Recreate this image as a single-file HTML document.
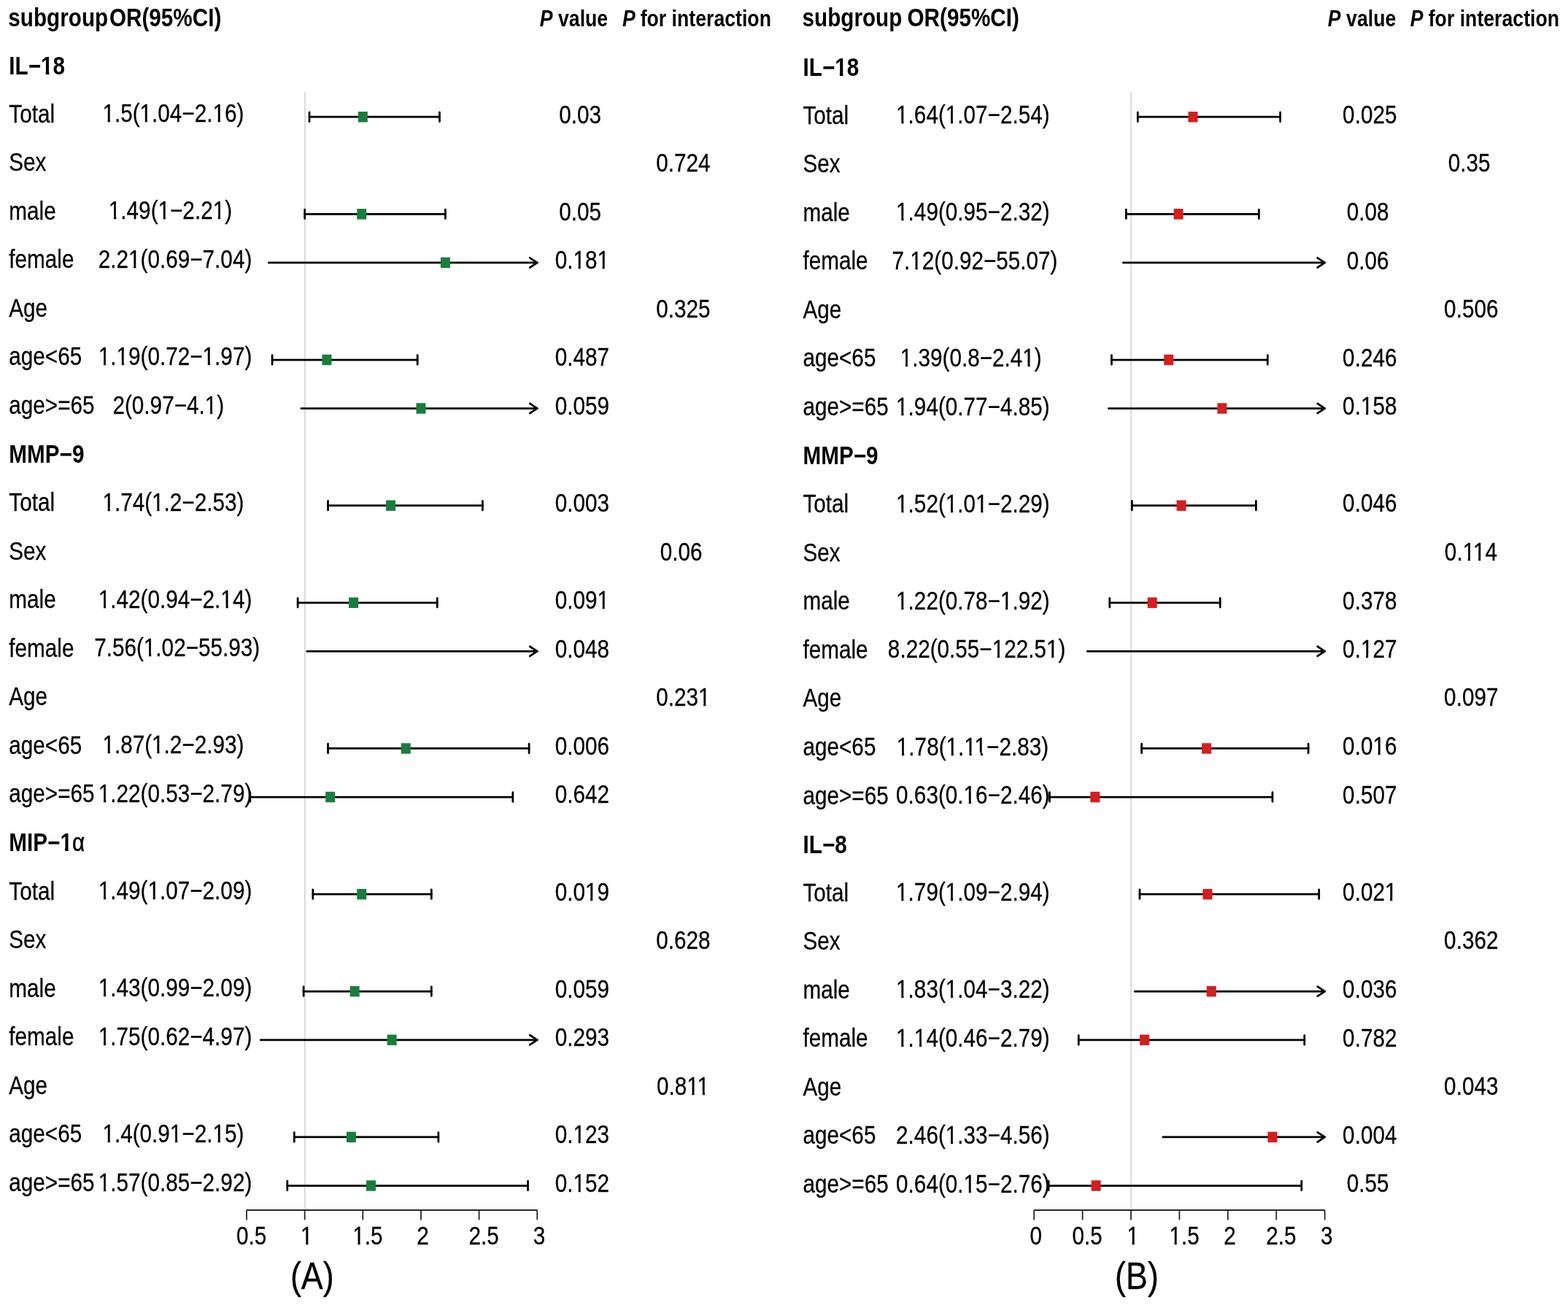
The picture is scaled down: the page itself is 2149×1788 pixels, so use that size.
<!DOCTYPE html>
<html><head><meta charset="utf-8"><title>Forest plot</title>
<style>
html,body{margin:0;padding:0;background:#fff;}
body{width:2149px;height:1788px;overflow:hidden;}
svg{display:block;}
text{font-family:"Liberation Sans",Arial,Helvetica,sans-serif;font-size:34.4px;fill:#000;stroke:#000;stroke-width:0.28px;stroke-linejoin:round;}
text[font-weight=bold]{stroke:none;}
</style></head>
<body>
<svg width="2149" height="1788" viewBox="0 0 2149 1788">
<rect width="2149" height="1788" fill="#fff"/>
<g stroke="#000" stroke-width="2.75" stroke-linecap="round" stroke-linejoin="round">
<line x1="417.85" y1="126" x2="417.85" y2="1658" stroke="#d8d8d8" stroke-width="1.9" stroke-linecap="butt"/>
<line x1="424.02" y1="160.20" x2="602.44" y2="160.20"/>
<line x1="424.02" y1="153.90" x2="424.02" y2="166.50"/>
<line x1="602.44" y1="153.90" x2="602.44" y2="166.50"/>
<rect x="490.80" y="152.95" width="13" height="14.5" fill="#187e3c" stroke="none"/>
<line x1="417.65" y1="293.32" x2="610.40" y2="293.32"/>
<line x1="417.65" y1="287.02" x2="417.65" y2="299.62"/>
<line x1="610.40" y1="287.02" x2="610.40" y2="299.62"/>
<rect x="489.21" y="286.07" width="13" height="14.5" fill="#187e3c" stroke="none"/>
<line x1="368.27" y1="359.88" x2="736.25" y2="359.88"/>
<polyline fill="none" points="726.25,353.28 736.25,359.88 726.25,366.48"/>
<rect x="603.90" y="352.63" width="13" height="14.5" fill="#187e3c" stroke="none"/>
<line x1="373.05" y1="493.00" x2="572.17" y2="493.00"/>
<line x1="373.05" y1="486.70" x2="373.05" y2="499.30"/>
<line x1="572.17" y1="486.70" x2="572.17" y2="499.30"/>
<rect x="441.42" y="485.75" width="13" height="14.5" fill="#187e3c" stroke="none"/>
<line x1="412.87" y1="559.56" x2="736.25" y2="559.56"/>
<polyline fill="none" points="726.25,552.96 736.25,559.56 726.25,566.16"/>
<rect x="570.45" y="552.31" width="13" height="14.5" fill="#187e3c" stroke="none"/>
<line x1="449.51" y1="692.68" x2="661.38" y2="692.68"/>
<line x1="449.51" y1="686.38" x2="449.51" y2="698.98"/>
<line x1="661.38" y1="686.38" x2="661.38" y2="698.98"/>
<rect x="529.03" y="685.43" width="13" height="14.5" fill="#187e3c" stroke="none"/>
<line x1="408.09" y1="825.80" x2="599.25" y2="825.80"/>
<line x1="408.09" y1="819.50" x2="408.09" y2="832.10"/>
<line x1="599.25" y1="819.50" x2="599.25" y2="832.10"/>
<rect x="478.06" y="818.55" width="13" height="14.5" fill="#187e3c" stroke="none"/>
<line x1="420.84" y1="892.36" x2="736.25" y2="892.36"/>
<polyline fill="none" points="726.25,885.76 736.25,892.36 726.25,898.96"/>
<line x1="449.51" y1="1025.48" x2="725.10" y2="1025.48"/>
<line x1="449.51" y1="1019.18" x2="449.51" y2="1031.78"/>
<line x1="725.10" y1="1019.18" x2="725.10" y2="1031.78"/>
<rect x="549.74" y="1018.23" width="13" height="14.5" fill="#187e3c" stroke="none"/>
<line x1="342.78" y1="1092.04" x2="702.80" y2="1092.04"/>
<line x1="342.78" y1="1085.74" x2="342.78" y2="1098.34"/>
<line x1="702.80" y1="1085.74" x2="702.80" y2="1098.34"/>
<rect x="446.20" y="1084.79" width="13" height="14.5" fill="#187e3c" stroke="none"/>
<line x1="428.80" y1="1225.16" x2="591.29" y2="1225.16"/>
<line x1="428.80" y1="1218.86" x2="428.80" y2="1231.46"/>
<line x1="591.29" y1="1218.86" x2="591.29" y2="1231.46"/>
<rect x="489.21" y="1217.91" width="13" height="14.5" fill="#187e3c" stroke="none"/>
<line x1="416.06" y1="1358.28" x2="591.29" y2="1358.28"/>
<line x1="416.06" y1="1351.98" x2="416.06" y2="1364.58"/>
<line x1="591.29" y1="1351.98" x2="591.29" y2="1364.58"/>
<rect x="479.65" y="1351.03" width="13" height="14.5" fill="#187e3c" stroke="none"/>
<line x1="357.12" y1="1424.84" x2="736.25" y2="1424.84"/>
<polyline fill="none" points="726.25,1418.24 736.25,1424.84 726.25,1431.44"/>
<rect x="530.62" y="1417.59" width="13" height="14.5" fill="#187e3c" stroke="none"/>
<line x1="403.31" y1="1557.96" x2="600.85" y2="1557.96"/>
<line x1="403.31" y1="1551.66" x2="403.31" y2="1564.26"/>
<line x1="600.85" y1="1551.66" x2="600.85" y2="1564.26"/>
<rect x="474.87" y="1550.71" width="13" height="14.5" fill="#187e3c" stroke="none"/>
<line x1="393.75" y1="1624.52" x2="723.51" y2="1624.52"/>
<line x1="393.75" y1="1618.22" x2="393.75" y2="1630.82"/>
<line x1="723.51" y1="1618.22" x2="723.51" y2="1630.82"/>
<rect x="501.95" y="1617.27" width="13" height="14.5" fill="#187e3c" stroke="none"/>
<g stroke="#262626" stroke-width="1.8" stroke-linecap="butt"><line x1="338.00" y1="1658" x2="736.25" y2="1658"/><line x1="338.00" y1="1658" x2="338.00" y2="1671.4"/><line x1="417.65" y1="1658" x2="417.65" y2="1671.4"/><line x1="497.30" y1="1658" x2="497.30" y2="1671.4"/><line x1="576.95" y1="1658" x2="576.95" y2="1671.4"/><line x1="656.60" y1="1658" x2="656.60" y2="1671.4"/><line x1="736.25" y1="1658" x2="736.25" y2="1671.4"/></g>
<line x1="1550.23" y1="126" x2="1550.23" y2="1658" stroke="#d8d8d8" stroke-width="1.9" stroke-linecap="butt"/>
<line x1="1559.33" y1="160.20" x2="1754.59" y2="160.20"/>
<line x1="1559.33" y1="153.90" x2="1559.33" y2="166.50"/>
<line x1="1754.59" y1="153.90" x2="1754.59" y2="166.50"/>
<rect x="1628.54" y="152.95" width="13" height="14.5" fill="#d61e1e" stroke="none"/>
<line x1="1543.39" y1="293.32" x2="1725.37" y2="293.32"/>
<line x1="1543.39" y1="287.02" x2="1543.39" y2="299.62"/>
<line x1="1725.37" y1="287.02" x2="1725.37" y2="299.62"/>
<rect x="1608.62" y="286.07" width="13" height="14.5" fill="#d61e1e" stroke="none"/>
<line x1="1539.40" y1="359.88" x2="1815.69" y2="359.88"/>
<polyline fill="none" points="1805.69,353.28 1815.69,359.88 1805.69,366.48"/>
<line x1="1523.46" y1="493.00" x2="1737.32" y2="493.00"/>
<line x1="1523.46" y1="486.70" x2="1523.46" y2="499.30"/>
<line x1="1737.32" y1="486.70" x2="1737.32" y2="499.30"/>
<rect x="1595.33" y="485.75" width="13" height="14.5" fill="#d61e1e" stroke="none"/>
<line x1="1519.48" y1="559.56" x2="1815.69" y2="559.56"/>
<polyline fill="none" points="1805.69,552.96 1815.69,559.56 1805.69,566.16"/>
<rect x="1668.39" y="552.31" width="13" height="14.5" fill="#d61e1e" stroke="none"/>
<line x1="1551.36" y1="692.68" x2="1721.38" y2="692.68"/>
<line x1="1551.36" y1="686.38" x2="1551.36" y2="698.98"/>
<line x1="1721.38" y1="686.38" x2="1721.38" y2="698.98"/>
<rect x="1612.60" y="685.43" width="13" height="14.5" fill="#d61e1e" stroke="none"/>
<line x1="1520.81" y1="825.80" x2="1672.23" y2="825.80"/>
<line x1="1520.81" y1="819.50" x2="1520.81" y2="832.10"/>
<line x1="1672.23" y1="819.50" x2="1672.23" y2="832.10"/>
<rect x="1572.75" y="818.55" width="13" height="14.5" fill="#d61e1e" stroke="none"/>
<line x1="1490.26" y1="892.36" x2="1815.69" y2="892.36"/>
<polyline fill="none" points="1805.69,885.76 1815.69,892.36 1805.69,898.96"/>
<line x1="1564.64" y1="1025.48" x2="1793.11" y2="1025.48"/>
<line x1="1564.64" y1="1019.18" x2="1564.64" y2="1031.78"/>
<line x1="1793.11" y1="1019.18" x2="1793.11" y2="1031.78"/>
<rect x="1647.14" y="1018.23" width="13" height="14.5" fill="#d61e1e" stroke="none"/>
<line x1="1438.45" y1="1092.04" x2="1743.96" y2="1092.04"/>
<line x1="1438.45" y1="1085.74" x2="1438.45" y2="1098.34"/>
<line x1="1743.96" y1="1085.74" x2="1743.96" y2="1098.34"/>
<rect x="1494.38" y="1084.79" width="13" height="14.5" fill="#d61e1e" stroke="none"/>
<line x1="1561.98" y1="1225.16" x2="1807.72" y2="1225.16"/>
<line x1="1561.98" y1="1218.86" x2="1561.98" y2="1231.46"/>
<line x1="1807.72" y1="1218.86" x2="1807.72" y2="1231.46"/>
<rect x="1648.47" y="1217.91" width="13" height="14.5" fill="#d61e1e" stroke="none"/>
<line x1="1555.34" y1="1358.28" x2="1815.69" y2="1358.28"/>
<polyline fill="none" points="1805.69,1351.68 1815.69,1358.28 1805.69,1364.88"/>
<rect x="1653.78" y="1351.03" width="13" height="14.5" fill="#d61e1e" stroke="none"/>
<line x1="1478.30" y1="1424.84" x2="1787.80" y2="1424.84"/>
<line x1="1478.30" y1="1418.54" x2="1478.30" y2="1431.14"/>
<line x1="1787.80" y1="1418.54" x2="1787.80" y2="1431.14"/>
<rect x="1562.13" y="1417.59" width="13" height="14.5" fill="#d61e1e" stroke="none"/>
<line x1="1593.86" y1="1557.96" x2="1815.69" y2="1557.96"/>
<polyline fill="none" points="1805.69,1551.36 1815.69,1557.96 1805.69,1564.56"/>
<rect x="1737.46" y="1550.71" width="13" height="14.5" fill="#d61e1e" stroke="none"/>
<line x1="1437.12" y1="1624.52" x2="1783.81" y2="1624.52"/>
<line x1="1437.12" y1="1618.22" x2="1437.12" y2="1630.82"/>
<line x1="1783.81" y1="1618.22" x2="1783.81" y2="1630.82"/>
<rect x="1495.71" y="1617.27" width="13" height="14.5" fill="#d61e1e" stroke="none"/>
<g stroke="#262626" stroke-width="1.8" stroke-linecap="butt"><line x1="1417.20" y1="1658" x2="1815.69" y2="1658"/><line x1="1417.20" y1="1658" x2="1417.20" y2="1671.4"/><line x1="1483.62" y1="1658" x2="1483.62" y2="1671.4"/><line x1="1550.03" y1="1658" x2="1550.03" y2="1671.4"/><line x1="1616.45" y1="1658" x2="1616.45" y2="1671.4"/><line x1="1682.86" y1="1658" x2="1682.86" y2="1671.4"/><line x1="1749.28" y1="1658" x2="1749.28" y2="1671.4"/><line x1="1815.69" y1="1658" x2="1815.69" y2="1671.4"/></g>
</g>
<g transform="scale(0.8634,1)">
<text x="13.09" y="36.20" font-weight="bold">subgroup</text>
<text x="173.62" y="36.20" font-weight="bold">OR(95%CI)</text>
<text x="856.87" y="36.20" font-weight="bold" font-style="italic" style="font-size:30.9px">P</text>
<text x="886.02" y="36.20" font-weight="bold" style="font-size:30.9px">value</text>
<text x="987.98" y="36.20" font-weight="bold" font-style="italic" style="font-size:30.9px">P</text>
<text x="1016.50" y="36.20" font-weight="bold" style="font-size:30.9px">for interaction</text>
<text x="14.25" y="101.54" font-weight="bold">IL−18</text>
<text x="14.25" y="167.60">Total</text>
<text x="162.65" y="167.20">1.5(1.04−2.16)</text>
<text x="887.47" y="168.60">0.03</text>
<text x="14.25" y="234.16">Sex</text>
<text x="1041.50" y="235.16">0.724</text>
<text x="14.25" y="300.72">male</text>
<text x="172.40" y="300.32">1.49(1−2.21)</text>
<text x="887.47" y="301.72">0.05</text>
<text x="14.25" y="367.28">female</text>
<text x="156.14" y="366.88">2.21(0.69−7.04)</text>
<text x="880.97" y="368.28">0.181</text>
<text x="14.25" y="433.84">Age</text>
<text x="1041.50" y="434.84">0.325</text>
<text x="14.25" y="500.40">age&lt;65</text>
<text x="156.14" y="500.00">1.19(0.72−1.97)</text>
<text x="880.97" y="501.40">0.487</text>
<text x="14.25" y="566.96">age&gt;=65</text>
<text x="178.91" y="566.56">2(0.97−4.1)</text>
<text x="880.97" y="567.96">0.059</text>
<text x="14.25" y="634.02" font-weight="bold">MMP−9</text>
<text x="14.25" y="700.08">Total</text>
<text x="162.65" y="699.68">1.74(1.2−2.53)</text>
<text x="880.97" y="701.08">0.003</text>
<text x="14.25" y="766.64">Sex</text>
<text x="1048.00" y="767.64">0.06</text>
<text x="14.25" y="833.20">male</text>
<text x="156.14" y="832.80">1.42(0.94−2.14)</text>
<text x="880.97" y="834.20">0.091</text>
<text x="14.25" y="899.76">female</text>
<text x="149.64" y="899.36">7.56(1.02−55.93)</text>
<text x="880.97" y="900.76">0.048</text>
<text x="14.25" y="966.32">Age</text>
<text x="1041.50" y="967.32">0.231</text>
<text x="14.25" y="1032.88">age&lt;65</text>
<text x="162.65" y="1032.48">1.87(1.2−2.93)</text>
<text x="880.97" y="1033.88">0.006</text>
<text x="14.25" y="1099.44">age&gt;=65</text>
<text x="156.14" y="1099.04">1.22(0.53−2.79)</text>
<text x="880.97" y="1100.44">0.642</text>
<text x="14.25" y="1166.50" font-weight="bold">MIP−1<tspan font-weight="normal" style="stroke:#000;stroke-width:0.55px">α</tspan></text>
<text x="14.25" y="1232.56">Total</text>
<text x="156.14" y="1232.16">1.49(1.07−2.09)</text>
<text x="880.97" y="1233.56">0.019</text>
<text x="14.25" y="1299.12">Sex</text>
<text x="1041.50" y="1300.12">0.628</text>
<text x="14.25" y="1365.68">male</text>
<text x="156.14" y="1365.28">1.43(0.99−2.09)</text>
<text x="880.97" y="1366.68">0.059</text>
<text x="14.25" y="1432.24">female</text>
<text x="156.14" y="1431.84">1.75(0.62−4.97)</text>
<text x="880.97" y="1433.24">0.293</text>
<text x="14.25" y="1498.80">Age</text>
<text x="1042.37" y="1499.80">0.811</text>
<text x="14.25" y="1565.36">age&lt;65</text>
<text x="162.65" y="1564.96">1.4(0.91−2.15)</text>
<text x="880.97" y="1566.36">0.123</text>
<text x="14.25" y="1631.92">age&gt;=65</text>
<text x="156.14" y="1631.52">1.57(0.85−2.92)</text>
<text x="880.97" y="1632.92">0.152</text>
<text x="375.22" y="1705.20">0.5</text>
<text x="477.22" y="1705.20">1</text>
<text x="559.72" y="1705.20">1.5</text>
<text x="661.73" y="1705.20">2</text>
<text x="744.22" y="1705.20">2.5</text>
<text x="846.23" y="1705.20">3</text>
<text x="1273.45" y="36.10" font-weight="bold">subgroup</text>
<text x="1440.24" y="36.10" font-weight="bold">OR(95%CI)</text>
<text x="2107.62" y="36.10" font-weight="bold" font-style="italic" style="font-size:30.9px">P</text>
<text x="2137.01" y="36.10" font-weight="bold" style="font-size:30.9px">value</text>
<text x="2238.50" y="36.10" font-weight="bold" font-style="italic" style="font-size:30.9px">P</text>
<text x="2267.48" y="36.10" font-weight="bold" style="font-size:30.9px">for interaction</text>
<text x="1274.61" y="103.64" font-weight="bold">IL−18</text>
<text x="1274.61" y="169.70">Total</text>
<text x="1422.42" y="169.30">1.64(1.07−2.54)</text>
<text x="2131.26" y="169.00">0.025</text>
<text x="1274.61" y="236.26">Sex</text>
<text x="2298.76" y="235.16">0.35</text>
<text x="1274.61" y="302.82">male</text>
<text x="1422.42" y="302.42">1.49(0.95−2.32)</text>
<text x="2137.76" y="302.12">0.08</text>
<text x="1274.61" y="369.38">female</text>
<text x="1415.91" y="368.98">7.12(0.92−55.07)</text>
<text x="2137.76" y="368.68">0.06</text>
<text x="1274.61" y="435.94">Age</text>
<text x="2292.25" y="434.84">0.506</text>
<text x="1274.61" y="502.50">age&lt;65</text>
<text x="1428.92" y="502.10">1.39(0.8−2.41)</text>
<text x="2131.26" y="501.80">0.246</text>
<text x="1274.61" y="569.06">age&gt;=65</text>
<text x="1422.42" y="568.66">1.94(0.77−4.85)</text>
<text x="2131.26" y="568.36">0.158</text>
<text x="1274.61" y="636.12" font-weight="bold">MMP−9</text>
<text x="1274.61" y="702.18">Total</text>
<text x="1422.42" y="701.78">1.52(1.01−2.29)</text>
<text x="2131.26" y="701.48">0.046</text>
<text x="1274.61" y="768.74">Sex</text>
<text x="2293.12" y="767.64">0.114</text>
<text x="1274.61" y="835.30">male</text>
<text x="1422.42" y="834.90">1.22(0.78−1.92)</text>
<text x="2131.26" y="834.60">0.378</text>
<text x="1274.61" y="901.86">female</text>
<text x="1409.41" y="901.46">8.22(0.55−122.51)</text>
<text x="2131.26" y="901.16">0.127</text>
<text x="1274.61" y="968.42">Age</text>
<text x="2292.25" y="967.32">0.097</text>
<text x="1274.61" y="1034.98">age&lt;65</text>
<text x="1423.28" y="1034.58">1.78(1.11−2.83)</text>
<text x="2131.26" y="1034.28">0.016</text>
<text x="1274.61" y="1101.54">age&gt;=65</text>
<text x="1422.42" y="1101.14">0.63(0.16−2.46)</text>
<text x="2131.26" y="1100.84">0.507</text>
<text x="1274.61" y="1168.60" font-weight="bold">IL−8</text>
<text x="1274.61" y="1234.66">Total</text>
<text x="1422.42" y="1234.26">1.79(1.09−2.94)</text>
<text x="2131.26" y="1233.96">0.021</text>
<text x="1274.61" y="1301.22">Sex</text>
<text x="2292.25" y="1300.12">0.362</text>
<text x="1274.61" y="1367.78">male</text>
<text x="1422.42" y="1367.38">1.83(1.04−3.22)</text>
<text x="2131.26" y="1367.08">0.036</text>
<text x="1274.61" y="1434.34">female</text>
<text x="1422.42" y="1433.94">1.14(0.46−2.79)</text>
<text x="2131.26" y="1433.64">0.782</text>
<text x="1274.61" y="1500.90">Age</text>
<text x="2292.25" y="1499.80">0.043</text>
<text x="1274.61" y="1567.46">age&lt;65</text>
<text x="1422.42" y="1567.06">2.46(1.33−4.56)</text>
<text x="2131.26" y="1566.76">0.004</text>
<text x="1274.61" y="1634.02">age&gt;=65</text>
<text x="1422.42" y="1633.62">0.64(0.15−2.76)</text>
<text x="2137.76" y="1633.32">0.55</text>
<text x="1634.91" y="1705.20">0</text>
<text x="1702.08" y="1705.20">0.5</text>
<text x="1788.76" y="1705.20">1</text>
<text x="1855.93" y="1705.20">1.5</text>
<text x="1942.60" y="1705.20">2</text>
<text x="2009.77" y="1705.20">2.5</text>
<text x="2096.45" y="1705.20">3</text>
<text x="460.85" y="1765.70" style="font-size:52px">(A)</text>
<text x="1769.75" y="1765.70" style="font-size:52px">(B)</text>
<g fill="#fff"><rect x="65.54" y="96.83" width="7.06" height="7.17"/><rect x="77.93" y="96.83" width="6.62" height="7.17"/><rect x="163.76" y="163.22" width="7.24" height="5.98"/><rect x="174.64" y="163.22" width="6.96" height="5.98"/><rect x="223.00" y="163.22" width="7.24" height="5.98"/><rect x="233.88" y="163.22" width="6.96" height="5.98"/><rect x="338.69" y="163.22" width="7.24" height="5.98"/><rect x="349.57" y="163.22" width="6.96" height="5.98"/><rect x="173.51" y="296.22" width="7.24" height="6.10"/><rect x="184.39" y="296.22" width="6.96" height="6.10"/><rect x="251.88" y="296.22" width="7.24" height="6.10"/><rect x="262.76" y="296.22" width="6.96" height="6.10"/><rect x="338.89" y="296.22" width="7.24" height="6.10"/><rect x="349.77" y="296.22" width="6.96" height="6.10"/><rect x="205.05" y="363.10" width="7.24" height="5.90"/><rect x="215.93" y="363.10" width="6.96" height="5.90"/><rect x="910.75" y="364.22" width="7.24" height="6.06"/><rect x="921.62" y="364.22" width="6.96" height="6.06"/><rect x="949.00" y="364.22" width="7.24" height="6.06"/><rect x="959.87" y="364.22" width="6.96" height="6.06"/><rect x="157.25" y="496.22" width="7.24" height="5.78"/><rect x="168.13" y="496.22" width="6.96" height="5.78"/><rect x="185.92" y="496.22" width="7.24" height="5.78"/><rect x="196.79" y="496.22" width="6.96" height="5.78"/><rect x="322.63" y="496.22" width="7.24" height="5.78"/><rect x="333.51" y="496.22" width="6.96" height="5.78"/><rect x="326.28" y="562.78" width="7.24" height="6.22"/><rect x="337.16" y="562.78" width="6.96" height="6.22"/><rect x="163.76" y="695.90" width="7.24" height="6.10"/><rect x="174.64" y="695.90" width="6.96" height="6.10"/><rect x="242.13" y="695.90" width="7.24" height="6.10"/><rect x="253.01" y="695.90" width="6.96" height="6.10"/><rect x="157.25" y="829.02" width="7.24" height="5.98"/><rect x="168.13" y="829.02" width="6.96" height="5.98"/><rect x="351.32" y="829.02" width="7.24" height="5.98"/><rect x="362.19" y="829.02" width="6.96" height="5.98"/><rect x="949.00" y="830.22" width="7.24" height="5.98"/><rect x="959.87" y="830.22" width="6.96" height="5.98"/><rect x="229.12" y="895.22" width="7.24" height="6.14"/><rect x="240.00" y="895.22" width="6.96" height="6.14"/><rect x="1109.53" y="963.22" width="7.24" height="6.10"/><rect x="1120.40" y="963.22" width="6.96" height="6.10"/><rect x="163.76" y="1028.22" width="7.24" height="6.26"/><rect x="174.64" y="1028.22" width="6.96" height="6.26"/><rect x="242.13" y="1028.22" width="7.24" height="6.26"/><rect x="253.01" y="1028.22" width="6.96" height="6.26"/><rect x="157.25" y="1095.22" width="7.24" height="5.82"/><rect x="168.13" y="1095.22" width="6.96" height="5.82"/><rect x="96.11" y="1161.29" width="7.06" height="7.21"/><rect x="108.50" y="1161.29" width="6.62" height="7.21"/><rect x="157.25" y="1228.22" width="7.24" height="5.94"/><rect x="168.13" y="1228.22" width="6.96" height="5.94"/><rect x="235.62" y="1228.22" width="7.24" height="5.94"/><rect x="246.50" y="1228.22" width="6.96" height="5.94"/><rect x="929.88" y="1229.78" width="7.24" height="6.22"/><rect x="940.76" y="1229.78" width="6.96" height="6.22"/><rect x="157.25" y="1361.22" width="7.24" height="6.06"/><rect x="168.13" y="1361.22" width="6.96" height="6.06"/><rect x="157.25" y="1428.06" width="7.24" height="5.94"/><rect x="168.13" y="1428.06" width="6.96" height="5.94"/><rect x="1091.28" y="1496.02" width="7.24" height="5.98"/><rect x="1102.16" y="1496.02" width="6.96" height="5.98"/><rect x="1107.84" y="1496.02" width="7.24" height="5.98"/><rect x="1118.72" y="1496.02" width="6.96" height="5.98"/><rect x="163.76" y="1561.18" width="7.24" height="5.82"/><rect x="174.64" y="1561.18" width="6.96" height="5.82"/><rect x="270.80" y="1561.18" width="7.24" height="5.82"/><rect x="281.68" y="1561.18" width="6.96" height="5.82"/><rect x="338.69" y="1561.18" width="7.24" height="5.82"/><rect x="349.57" y="1561.18" width="6.96" height="5.82"/><rect x="910.75" y="1562.22" width="7.24" height="6.14"/><rect x="921.62" y="1562.22" width="6.96" height="6.14"/><rect x="157.25" y="1627.74" width="7.24" height="6.26"/><rect x="168.13" y="1627.74" width="6.96" height="6.26"/><rect x="910.75" y="1629.14" width="7.24" height="5.86"/><rect x="921.62" y="1629.14" width="6.96" height="5.86"/><rect x="478.33" y="1701.22" width="7.24" height="5.98"/><rect x="489.21" y="1701.22" width="6.96" height="5.98"/><rect x="560.83" y="1701.22" width="7.24" height="5.98"/><rect x="571.71" y="1701.22" width="6.96" height="5.98"/><rect x="1325.90" y="98.93" width="7.06" height="7.07"/><rect x="1338.29" y="98.93" width="6.62" height="7.07"/><rect x="1423.53" y="165.22" width="7.24" height="6.08"/><rect x="1434.41" y="165.22" width="6.96" height="6.08"/><rect x="1501.90" y="165.22" width="7.24" height="6.08"/><rect x="1512.78" y="165.22" width="6.96" height="6.08"/><rect x="1423.53" y="298.22" width="7.24" height="6.20"/><rect x="1434.41" y="298.22" width="6.96" height="6.20"/><rect x="1445.69" y="365.20" width="7.24" height="5.80"/><rect x="1456.56" y="365.20" width="6.96" height="5.80"/><rect x="1430.03" y="498.22" width="7.24" height="5.88"/><rect x="1440.91" y="498.22" width="6.96" height="5.88"/><rect x="1624.10" y="498.22" width="7.24" height="5.88"/><rect x="1634.97" y="498.22" width="6.96" height="5.88"/><rect x="1423.53" y="564.88" width="7.24" height="6.12"/><rect x="1434.41" y="564.88" width="6.96" height="6.12"/><rect x="2161.04" y="564.22" width="7.24" height="6.14"/><rect x="2171.91" y="564.22" width="6.96" height="6.14"/><rect x="1423.53" y="698.00" width="7.24" height="6.00"/><rect x="1434.41" y="698.00" width="6.96" height="6.00"/><rect x="1501.90" y="698.00" width="7.24" height="6.00"/><rect x="1512.78" y="698.00" width="6.96" height="6.00"/><rect x="1549.71" y="698.00" width="7.24" height="6.00"/><rect x="1560.58" y="698.00" width="6.96" height="6.00"/><rect x="2322.90" y="763.86" width="7.24" height="6.14"/><rect x="2333.77" y="763.86" width="6.96" height="6.14"/><rect x="2339.47" y="763.86" width="7.24" height="6.14"/><rect x="2350.35" y="763.86" width="6.96" height="6.14"/><rect x="1423.53" y="831.12" width="7.24" height="5.88"/><rect x="1434.41" y="831.12" width="6.96" height="5.88"/><rect x="1588.91" y="831.12" width="7.24" height="5.88"/><rect x="1599.79" y="831.12" width="6.96" height="5.88"/><rect x="1575.90" y="897.22" width="7.24" height="6.24"/><rect x="1586.78" y="897.22" width="6.96" height="6.24"/><rect x="1661.95" y="897.22" width="7.24" height="6.24"/><rect x="1672.83" y="897.22" width="6.96" height="6.24"/><rect x="2161.04" y="897.22" width="7.24" height="5.94"/><rect x="2171.91" y="897.22" width="6.96" height="5.94"/><rect x="1424.39" y="1030.80" width="7.24" height="6.20"/><rect x="1435.27" y="1030.80" width="6.96" height="6.20"/><rect x="1502.76" y="1030.80" width="7.24" height="6.20"/><rect x="1513.64" y="1030.80" width="6.96" height="6.20"/><rect x="1531.43" y="1030.80" width="7.24" height="6.20"/><rect x="1542.31" y="1030.80" width="6.96" height="6.20"/><rect x="1549.30" y="1030.80" width="7.24" height="6.20"/><rect x="1560.17" y="1030.80" width="6.96" height="6.20"/><rect x="2180.17" y="1030.22" width="7.24" height="6.06"/><rect x="2191.05" y="1030.22" width="6.96" height="6.06"/><rect x="1530.57" y="1097.22" width="7.24" height="5.92"/><rect x="1541.45" y="1097.22" width="6.96" height="5.92"/><rect x="1423.53" y="1230.22" width="7.24" height="6.04"/><rect x="1434.41" y="1230.22" width="6.96" height="6.04"/><rect x="1501.90" y="1230.22" width="7.24" height="6.04"/><rect x="1512.78" y="1230.22" width="6.96" height="6.04"/><rect x="2199.29" y="1230.18" width="7.24" height="5.82"/><rect x="2210.16" y="1230.18" width="6.96" height="5.82"/><rect x="1423.53" y="1363.22" width="7.24" height="6.16"/><rect x="1434.41" y="1363.22" width="6.96" height="6.16"/><rect x="1501.90" y="1363.22" width="7.24" height="6.16"/><rect x="1512.78" y="1363.22" width="6.96" height="6.16"/><rect x="1423.53" y="1430.16" width="7.24" height="5.84"/><rect x="1434.41" y="1430.16" width="6.96" height="5.84"/><rect x="1452.20" y="1430.16" width="7.24" height="5.84"/><rect x="1463.07" y="1430.16" width="6.96" height="5.84"/><rect x="1501.90" y="1563.22" width="7.24" height="5.84"/><rect x="1512.78" y="1563.22" width="6.96" height="5.84"/><rect x="1530.57" y="1629.84" width="7.24" height="6.16"/><rect x="1541.45" y="1629.84" width="6.96" height="6.16"/><rect x="1789.87" y="1701.22" width="7.24" height="5.98"/><rect x="1800.75" y="1701.22" width="6.96" height="5.98"/><rect x="1857.04" y="1701.22" width="7.24" height="5.98"/><rect x="1867.92" y="1701.22" width="6.96" height="5.98"/></g>
</g>
</svg>
</body></html>
